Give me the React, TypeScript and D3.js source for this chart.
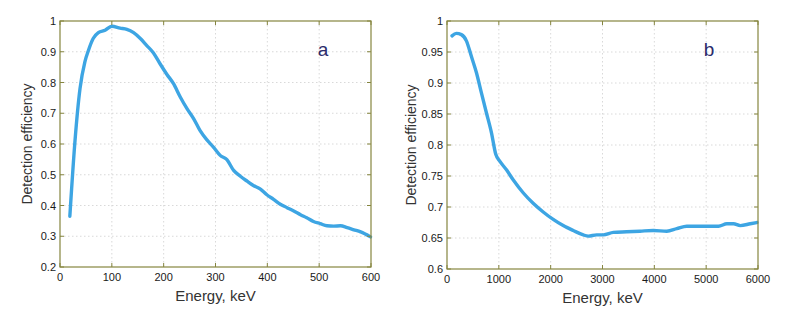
import React from "react";
import * as d3 from "d3";

const energyA = [19, 29, 38.6, 48, 55, 64, 74, 87, 100, 116, 129, 142, 155, 167, 180, 193, 206, 219, 232, 245, 258, 270, 283, 296, 309, 322, 335, 348, 361, 373, 386, 399, 412, 425, 438, 451, 464, 476, 489, 502, 515, 528, 541, 554, 567, 580, 599];
const effA = [0.365, 0.612, 0.78, 0.867, 0.905, 0.943, 0.962, 0.970, 0.983, 0.977, 0.973, 0.962, 0.943, 0.921, 0.897, 0.861, 0.827, 0.796, 0.753, 0.715, 0.682, 0.644, 0.614, 0.590, 0.563, 0.549, 0.514, 0.495, 0.479, 0.465, 0.454, 0.435, 0.420, 0.404, 0.393, 0.382, 0.370, 0.360, 0.348, 0.341, 0.334, 0.333, 0.334, 0.328, 0.321, 0.314, 0.298];

const energyB = [97, 180, 277, 374, 470, 567, 664, 760, 857, 941, 1018, 1147, 1276, 1469, 1662, 1856, 2049, 2242, 2436, 2629, 2726, 2887, 3015, 3209, 3466, 3724, 3982, 4240, 4433, 4626, 5013, 5238, 5400, 5528, 5657, 5851, 5979];
const effB = [0.976, 0.980, 0.978, 0.968, 0.943, 0.917, 0.884, 0.852, 0.820, 0.785, 0.774, 0.760, 0.744, 0.723, 0.706, 0.692, 0.680, 0.670, 0.662, 0.655, 0.653, 0.655, 0.655, 0.659, 0.660, 0.661, 0.662, 0.661, 0.665, 0.669, 0.669, 0.669, 0.673, 0.673, 0.670, 0.673, 0.675];

const xTicksA = [0, 100, 200, 300, 400, 500, 600];
const yTicksA = [0.2, 0.3, 0.4, 0.5, 0.6, 0.7, 0.8, 0.9, 1];
const xTicksB = [0, 1000, 2000, 3000, 4000, 5000, 6000];
const yTicksB = [0.6, 0.65, 0.7, 0.75, 0.8, 0.85, 0.9, 0.95, 1];

const FONT = "'Liberation Sans', Arial, sans-serif";
const FRAME = "#85853f";
const LINE = "#3da5e3";

function fmt(v: number) {
  return String(v);
}

function Panel(props: {
  x0: number; x1: number; y0: number; y1: number;
  xDomain: [number, number]; yDomain: [number, number];
  xTicks: number[]; yTicks: number[];
  xs: number[]; ys: number[]; tag: string; tagX: number; yTitleX: number;
}) {
  const { x0, x1, y0, y1, xDomain, yDomain, xTicks, yTicks, xs, ys, tag, tagX, yTitleX } = props;
  const xs_ = d3.scaleLinear().domain(xDomain).range([x0, x1]);
  const ys_ = d3.scaleLinear().domain(yDomain).range([y1, y0]);
  const pts: [number, number][] = xs.map((e, i) => [e, ys[i]]);
  const path = d3.line<[number, number]>().x(d => xs_(d[0])).y(d => ys_(d[1])).curve(d3.curveMonotoneX)(pts) || "";
  const tl = 4;
  return (
    <g>
      {xTicks.slice(1, -1).map(t => (
        <line key={"gx" + t} x1={xs_(t)} x2={xs_(t)} y1={y0} y2={y1} stroke="#cfcfcf" strokeWidth={0.8} strokeDasharray="1.5,2.5" />
      ))}
      {yTicks.slice(1, -1).map(t => (
        <line key={"gy" + t} x1={x0} x2={x1} y1={ys_(t)} y2={ys_(t)} stroke="#cfcfcf" strokeWidth={0.8} strokeDasharray="1.5,2.5" />
      ))}
      <path d={path} fill="none" stroke={LINE} strokeWidth={3.4} strokeLinejoin="round" strokeLinecap="round" />
      <rect x={x0} y={y0} width={x1 - x0} height={y1 - y0} fill="none" stroke={FRAME} strokeWidth={1.2} />
      {xTicks.map(t => (
        <g key={"tx" + t}>
          <line x1={xs_(t)} x2={xs_(t)} y1={y1} y2={y1 - tl} stroke={FRAME} />
          <line x1={xs_(t)} x2={xs_(t)} y1={y0} y2={y0 + tl} stroke={FRAME} />
          <text x={xs_(t)} y={y1 + 14} textAnchor="middle" fontSize={11} fill="#1a1a1a" fontFamily={FONT}>{fmt(t)}</text>
        </g>
      ))}
      {yTicks.map(t => (
        <g key={"ty" + t}>
          <line x1={x0} x2={x0 + tl} y1={ys_(t)} y2={ys_(t)} stroke={FRAME} />
          <line x1={x1} x2={x1 - tl} y1={ys_(t)} y2={ys_(t)} stroke={FRAME} />
          <text x={x0 - 4} y={ys_(t) + 4} textAnchor="end" fontSize={11} fill="#1a1a1a" fontFamily={FONT}>{fmt(t)}</text>
        </g>
      ))}
      <text x={(x0 + x1) / 2} y={y1 + 34} textAnchor="middle" fontSize={15} fill="#333" fontFamily={FONT}>Energy, keV</text>
      <text transform={`translate(${yTitleX},${(y0 + y1) / 2}) rotate(-90)`} textAnchor="middle" fontSize={14} fill="#333" fontFamily={FONT}>Detection efficiency</text>
      <text x={tagX} y={y0 + 35} textAnchor="middle" fontSize={19} fill="#2b2b6b" fontFamily={FONT}>{tag}</text>
    </g>
  );
}

export default function App() {
  return (
    <svg width={785} height={316} style={{ position: "absolute", left: 0, top: 0, background: "#fff" }}>
      <Panel x0={60} x1={371} y0={21} y1={267} xDomain={[0, 600]} yDomain={[0.2, 1]}
        xTicks={xTicksA} yTicks={yTicksA} xs={energyA} ys={effA} tag="a" tagX={323} yTitleX={32} />
      <Panel x0={447} x1={758} y0={21} y1={269} xDomain={[0, 6000]} yDomain={[0.6, 1]}
        xTicks={xTicksB} yTicks={yTicksB} xs={energyB} ys={effB} tag="b" tagX={709} yTitleX={416} />
    </svg>
  );
}
